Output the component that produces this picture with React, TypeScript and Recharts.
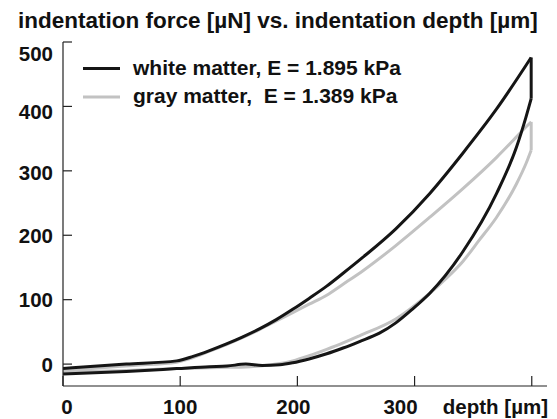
import { LineChart, Line, XAxis, YAxis, Legend } from "recharts";

// white matter: loading branch, then unloading branch (both listed by rising depth)
const whiteLoadDepth = [0, 54, 97, 111, 125, 139, 153, 168, 182, 196, 210, 225, 239, 256, 284, 313, 341, 370, 399.5];
const whiteLoadForce = [-6.7, 0, 5, 12, 21, 31, 42, 55, 69, 85, 102, 121, 141, 166, 210, 265, 327, 396, 476];
const whiteUnloadDepth = [
  0, 54, 97, 125, 140, 156, 170, 185, 196, 210, 225, 239, 253, 270, 284, 298, 313, 341, 370, 387, 395, 399.5,
];
const whiteUnloadForce = [
  -15.5, -11.5, -7, -4, -3, 0, -2, -1, 2, 8, 16, 25, 35, 48, 64, 85, 110, 174, 265, 337, 383, 412,
];

// gray matter
const grayLoadDepth = [
  0, 30, 60, 97, 111, 125, 139, 153, 168, 182, 196, 210, 225, 239, 256, 284, 313, 341, 370, 384, 395, 399.5,
];
const grayLoadForce = [
  -10, -6, -2, 3, 10, 20, 30, 41, 54, 67, 80, 93, 107, 124, 145, 184, 228, 272, 321, 347, 368, 376,
];
const grayUnloadDepth = [
  0, 54, 97, 125, 140, 156, 168, 182, 196, 210, 225, 239, 253, 284, 313, 327, 341, 355, 370, 387, 395, 399.5,
];
const grayUnloadForce = [
  -12, -10, -7, -5.5, -5, -4.5, -3, 0, 5, 13, 23, 33, 44, 70, 110, 133, 159, 192, 228, 280, 311, 332,
];

const xTicks = [0, 100, 200, 300, 400];
const yTicks = [0, 100, 200, 300, 400, 500];
const xAxisTitle = "depth [µm]";
const chartTitle = "indentation force [µN] vs. indentation depth [µm]";
const whiteName = "white matter, E = 1.895 kPa";
const grayName = "gray matter,  E = 1.389 kPa";
const legendOrder = [whiteName, grayName];

const toPoints = (ds: number[], fs: number[]) => ds.map((d, i) => ({ d, f: fs[i] }));
const whiteLoad = toPoints(whiteLoadDepth, whiteLoadForce);
const whiteUnload = toPoints(whiteUnloadDepth, whiteUnloadForce);
const whiteHold = [whiteLoad[whiteLoad.length - 1], whiteUnload[whiteUnload.length - 1]];
const grayLoad = toPoints(grayLoadDepth, grayLoadForce);
const grayUnload = toPoints(grayUnloadDepth, grayUnloadForce);
const grayHold = [grayLoad[grayLoad.length - 1], grayUnload[grayUnload.length - 1]];

const font = "'Liberation Sans', Arial, sans-serif";
const axisColor = "#222";
const white = "#151515";
const gray = "#c2c2c2";

// the labels in the original sit a little off their ticks
const xLabelShift: Record<number, number> = { 0: 4, 200: -4, 300: -14 };
const yLabelShift: Record<number, number> = { 500: 11, 400: 5, 300: 2 };

const XTick = ({ x, y, payload }: any) => {
  const v = payload.value;
  const isLast = v === 400;
  return (
    <g>
      <line x1={x} y1={y} x2={x} y2={y - 10} stroke={axisColor} strokeWidth={1.2} />
      <text
        x={isLast ? 548 : x + (xLabelShift[v] || 0)}
        y={y + 28}
        textAnchor={isLast ? "end" : "middle"}
        fontFamily={font}
        fontWeight="bold"
        fontSize={20.5}
        fill="#111"
      >
        {isLast ? xAxisTitle : v}
      </text>
    </g>
  );
};

const YTick = ({ x, y, payload }: any) => {
  const v = payload.value;
  return (
    <g>
      <line x1={x} y1={y} x2={x + 9} y2={y} stroke={axisColor} strokeWidth={1.2} />
      <text
        x={x - 10}
        y={y + 7.5 + (yLabelShift[v] || 0)}
        textAnchor="end"
        fontFamily={font}
        fontWeight="bold"
        fontSize={20.5}
        fill="#111"
      >
        {v}
      </text>
    </g>
  );
};

const LegendBox = ({ payload }: any) => {
  const entries = payload || [];
  const items = legendOrder
    .map((name) => entries.find((e: any) => e.value === name))
    .filter(Boolean);
  return (
    <svg width={360} height={65} style={{ display: "block" }}>
      {items.map((it: any, i: number) => (
        <g key={it.value}>
          <line x1={8} y1={18.5 + i * 28.4} x2={45} y2={18.5 + i * 28.4} stroke={it.color} strokeWidth={3} />
          <text
            x={58}
            y={25 + i * 28.4}
            fontFamily={font}
            fontWeight="bold"
            fontSize={21}
            fill="#111"
            style={{ whiteSpace: "pre" }}
          >
            {it.value}
          </text>
        </g>
      ))}
    </svg>
  );
};

const lineProps = {
  dataKey: "f",
  strokeWidth: 3,
  dot: false,
  isAnimationActive: false,
};

export default function App() {
  return (
    <div style={{ position: "absolute", left: 0, top: 0, width: 557, height: 419, background: "#fff" }}>
      <svg width={557} height={40} style={{ position: "absolute", left: 0, top: 0, zIndex: 2 }}>
        <text x={18} y={27.5} fontFamily={font} fontWeight="bold" fontSize={22.5} fill="#111">
          {chartTitle}
        </text>
      </svg>
      <LineChart width={557} height={419} margin={{ top: 42, right: 10, bottom: 3, left: 13 }}>
        <XAxis
          dataKey="d"
          type="number"
          domain={[0, 413]}
          ticks={xTicks}
          allowDataOverflow
          height={30}
          tickSize={0}
          tickMargin={0}
          tickLine={false}
          tick={<XTick />}
          axisLine={{ stroke: axisColor, strokeWidth: 1.2 }}
          interval={0}
        />
        <YAxis
          type="number"
          domain={[-34, 500]}
          ticks={yTicks}
          allowDataOverflow
          width={50}
          tickSize={0}
          tickMargin={0}
          tickLine={false}
          tick={<YTick />}
          axisLine={{ stroke: axisColor, strokeWidth: 1.2 }}
          interval={0}
        />
        <Legend
          layout="horizontal"
          verticalAlign="middle"
          align="center"
          content={<LegendBox />}
          wrapperStyle={{ left: 75, top: 50, width: 360, height: 65 }}
        />
        <Line {...lineProps} data={grayLoad} name={grayName} type="monotone" stroke={gray} />
        <Line {...lineProps} data={grayUnload} name="gray unloading" type="monotone" stroke={gray} legendType="none" />
        <Line {...lineProps} data={grayHold} name="gray hold" type="linear" stroke={gray} legendType="none" />
        <Line {...lineProps} data={whiteLoad} name={whiteName} type="monotone" stroke={white} />
        <Line {...lineProps} data={whiteUnload} name="white unloading" type="monotone" stroke={white} legendType="none" />
        <Line {...lineProps} data={whiteHold} name="white hold" type="linear" stroke={white} legendType="none" />
      </LineChart>
    </div>
  );
}
